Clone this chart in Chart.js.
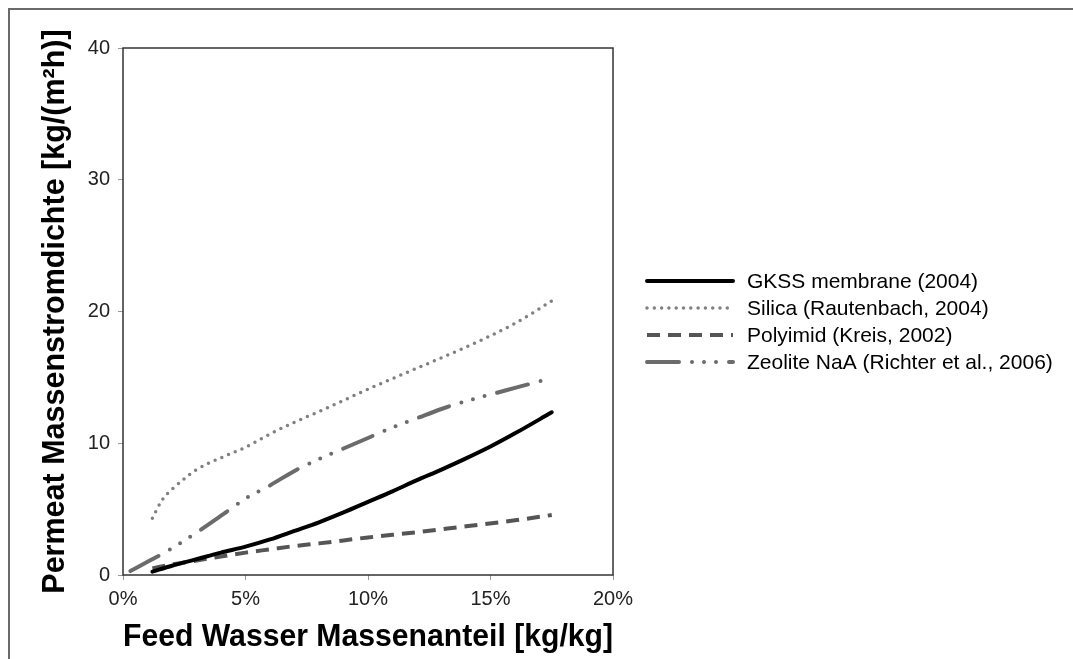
<!DOCTYPE html>
<html>
<head>
<meta charset="utf-8">
<script src="https://cdn.jsdelivr.net/npm/chart.js@4/dist/chart.umd.min.js"></script>
<style>
  html, body { margin: 0; padding: 0; background: #fff; }
  #wrap { position: relative; width: 1073px; height: 659px; }
  #frame {
    position: absolute; left: 8px; top: 8px; right: 0; bottom: 0;
    border-left: 2px solid #6a6a6a; border-top: 2px solid #6a6a6a;
    pointer-events: none;
  }
</style>
</head>
<body>
<div id="wrap">
  <canvas id="chart" width="1073" height="659"></canvas>
  <div id="frame"></div>
</div>
<script>
// Werte (x in %, y in kg/(m²h))
const seriesLabels = [
  'GKSS membrane (2004)',
  'Silica (Rautenbach, 2004)',
  'Polyimid (Kreis, 2002)',
  'Zeolite NaA (Richter et al., 2006)'
];

const gkssX = [1.2, 2, 3, 4, 5, 6, 7, 8, 9, 10, 11, 12, 13, 14, 15, 16, 17.5];
const gkssY = [0.25, 0.7, 1.2, 1.7, 2.15, 2.7, 3.35, 4.0, 4.75, 5.55, 6.35, 7.2, 8.0, 8.85, 9.75, 10.75, 12.35];

const silicaX = [1.2, 1.6, 2.0, 2.5, 3, 4, 5, 6, 7, 8, 10, 12, 14, 16, 17.5];
const silicaY = [4.3, 5.7, 6.5, 7.3, 8.0, 8.9, 9.7, 10.7, 11.6, 12.4, 14.1, 15.7, 17.3, 19.1, 20.8];

const polyX = [1.2, 2, 3, 4, 5, 6, 7, 8, 10, 12, 14, 16, 17.5];
const polyY = [0.5, 0.8, 1.1, 1.4, 1.7, 1.95, 2.2, 2.4, 2.85, 3.25, 3.7, 4.15, 4.55];

const zeoX = [0.3, 1, 1.7, 2.5, 3.3, 4, 5, 6, 7, 8, 9, 10, 11, 12, 13, 14, 15, 16, 17.5];
const zeoY = [0.3, 1.0, 1.7, 2.6, 3.6, 4.5, 5.8, 6.8, 7.9, 8.8, 9.6, 10.4, 11.2, 11.9, 12.6, 13.2, 13.7, 14.2, 14.95];

const xTicks = [0, 5, 10, 15, 20];
const yTicks = [0, 10, 20, 30, 40];

function toPoints(xs, ys) {
  return xs.map((x, i) => ({ x: x, y: ys[i] }));
}

const FONT = '"Liberation Sans", Arial, sans-serif';

// Rahmen um die Zeichenfläche
const plotBorder = {
  id: 'plotBorder',
  afterDraw(chart) {
    const { ctx, chartArea: a } = chart;
    ctx.save();
    ctx.strokeStyle = '#333';
    ctx.lineWidth = 1.5;
    ctx.strokeRect(a.left, a.top, a.right - a.left, a.bottom - a.top);
    ctx.restore();
  }
};

// Legende rechts neben dem Diagramm
const sideLegend = {
  id: 'sideLegend',
  afterDraw(chart) {
    const ctx = chart.ctx;
    const x0 = 647, x1 = 733, tx = 747;
    let y = 281;
    chart.data.datasets.forEach(ds => {
      ctx.save();
      ctx.strokeStyle = ds.borderColor;
      ctx.lineWidth = ds.borderWidth;
      ctx.lineCap = ds.borderCapStyle || 'butt';
      ctx.setLineDash(ds.borderDash || []);
      ctx.beginPath();
      ctx.moveTo(x0, y);
      ctx.lineTo(x1, y);
      ctx.stroke();
      ctx.restore();
      ctx.save();
      ctx.fillStyle = '#000';
      ctx.font = '21px ' + FONT;
      ctx.textBaseline = 'middle';
      ctx.fillText(ds.label, tx, y + 1);
      ctx.restore();
      y += 27;
    });
  }
};

new Chart(document.getElementById('chart'), {
  type: 'line',
  data: {
    datasets: [
      {
        label: seriesLabels[0],
        data: toPoints(gkssX, gkssY),
        borderColor: '#000',
        borderWidth: 4,
        borderCapStyle: 'round'
      },
      {
        label: seriesLabels[1],
        data: toPoints(silicaX, silicaY),
        borderColor: '#808080',
        borderWidth: 3.5,
        borderCapStyle: 'round',
        borderDash: [0, 7.3]
      },
      {
        label: seriesLabels[2],
        data: toPoints(polyX, polyY),
        borderColor: '#555',
        borderWidth: 4,
        borderCapStyle: 'butt',
        borderDash: [13, 8]
      },
      {
        label: seriesLabels[3],
        data: toPoints(zeoX, zeoY),
        borderColor: '#6b6b6b',
        borderWidth: 4,
        borderCapStyle: 'round',
        borderDash: [32, 13, 0, 12, 0, 12, 0, 13]
      }
    ]
  },
  options: {
    responsive: false,
    animation: false,
    layout: { padding: { left: 10, top: 48, right: 460, bottom: 0 } },
    elements: {
      point: { radius: 0 },
      line: { tension: 0.4, cubicInterpolationMode: 'monotone', fill: false }
    },
    plugins: {
      legend: { display: false },
      tooltip: { enabled: false }
    },
    scales: {
      x: {
        type: 'linear',
        min: 0,
        max: 20,
        afterBuildTicks: s => { s.ticks = xTicks.map(v => ({ value: v })); },
        afterFit: s => { s.height = 84; },
        ticks: {
          callback: v => v + '%',
          color: '#222',
          font: { family: FONT, size: 20 },
          padding: 7,
          maxRotation: 0
        },
        grid: { drawOnChartArea: false, drawTicks: true, tickLength: 5, color: '#999' },
        border: { display: false },
        title: {
          display: true,
          text: 'Feed Wasser Massenanteil [kg/kg]',
          color: '#000',
          font: { family: FONT, size: 30.5, weight: 'bold' },
          padding: { top: 0, bottom: 3 }
        }
      },
      y: {
        type: 'linear',
        min: 0,
        max: 40,
        afterBuildTicks: s => { s.ticks = yTicks.map(v => ({ value: v })); },
        afterFit: s => { s.width = 113; },
        ticks: {
          color: '#222',
          font: { family: FONT, size: 20 },
          padding: 8
        },
        grid: { drawOnChartArea: false, drawTicks: true, tickLength: 5, color: '#999' },
        border: { display: false },
        title: {
          display: true,
          text: 'Permeat Massenstromdichte [kg/(m²h)]',
          color: '#000',
          font: { family: FONT, size: 30.5, weight: 'bold' },
          padding: { top: 27, bottom: 0 }
        }
      }
    }
  },
  plugins: [plotBorder, sideLegend]
});
</script>
</body>
</html>
